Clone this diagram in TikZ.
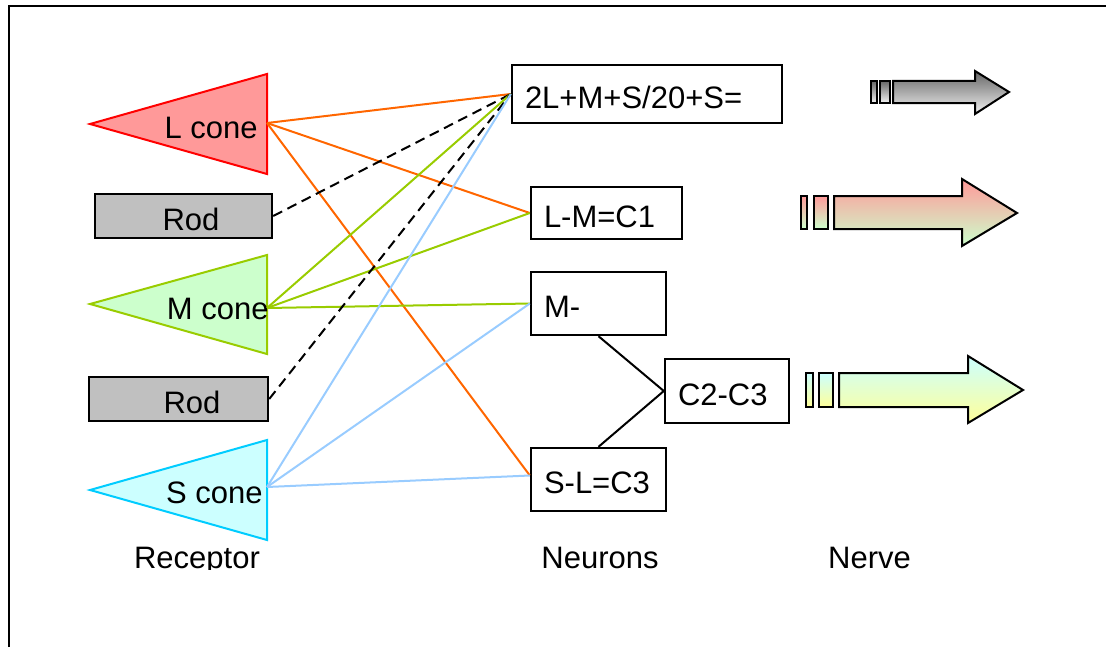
\documentclass[tikz,border=0pt]{standalone}
\usepackage{fontspec}
\setmainfont{Liberation Sans}
\usetikzlibrary{calc}
\definecolor{lfill}{HTML}{FF9999}
\definecolor{lline}{HTML}{FF0000}
\definecolor{mfill}{HTML}{CCFFCC}
\definecolor{mline}{HTML}{99CC00}
\definecolor{sfill}{HTML}{CCFFFF}
\definecolor{sline}{HTML}{00CCFF}
\definecolor{orangeL}{HTML}{FF6600}
\definecolor{blueS}{HTML}{99CCFF}
\definecolor{rodgray}{HTML}{C0C0C0}
\definecolor{yel}{HTML}{FFFF99}
\begin{document}
\begin{tikzpicture}[x=0.5pt,y=-0.5pt,
  font=\fontsize{15.5}{18}\selectfont,
  nbox/.style={draw, line width=1.2pt, fill=white, inner xsep=6.5pt, inner ysep=0pt,
    align=left, text height=14pt, text depth=0pt},
  rodbox/.style={draw, line width=1.2pt, fill=rodgray, inner sep=0pt,
    text height=14pt, text depth=0pt, minimum height=22pt},
  conelabel/.style={inner sep=0pt, anchor=east},
  conn/.style={line width=1pt},
  rodconn/.style={line width=1pt, dash pattern=on 5pt off 3pt},
  arrowpart/.style={draw=black, line width=1pt},
  caption/.style={inner sep=0pt, anchor=base}]
\useasboundingbox (0,0) rectangle (1106,647);
% frame
\draw[line width=1pt] (8.5,647) -- (8.5,6) -- (1106,6);

% receptors
\filldraw[draw=lline, fill=lfill, line width=1pt] (90,124) -- (267,74) -- (267,174) -- cycle;
\coordinate (Lc) at (267,123);
\node[conelabel] (Ltxt) at (258,128) {L cone};

\node[rodbox, minimum width=88.5pt] (rod1) at (183.5,216) {\hspace*{7.5pt}Rod};

\filldraw[draw=mline, fill=mfill, line width=1pt] (90,304) -- (267,255) -- (267,354) -- cycle;
\coordinate (Mc) at (267,308);
\node[conelabel] (Mtxt) at (269,309) {M cone};

\node[rodbox, minimum width=89.5pt] (rod2) at (178.5,399) {\hspace*{13.5pt}Rod};

\filldraw[draw=sline, fill=sfill, line width=1pt] (90,490) -- (267,440) -- (267,540) -- cycle;
\coordinate (Sc) at (267,487);
\node[conelabel] (Stxt) at (263,493) {S cone};

% neurons
\node[nbox, minimum width=135pt, minimum height=29pt, text width=122pt] (A) at (647,94) {2L+M+S/20+S=};
\node[nbox, minimum width=75.5pt, minimum height=26pt, text width=62.5pt] (B) at (606.5,213) {L-M=C1};
\node[nbox, minimum width=67.5pt, minimum height=31.5pt, text width=54.5pt] (C) at (598.5,303.5) {M-};
\node[nbox, minimum width=62pt, minimum height=32pt, text width=49pt] (D) at (727,391) {C2-C3};
\node[nbox, minimum width=67.5pt, minimum height=31.5pt, text width=54.5pt] (E) at (598.5,479.5) {S-L=C3};

% connectors
\draw[conn, orangeL] (Lc) -- (A.west);
\draw[conn, orangeL] (Lc) -- (B.west);
\draw[conn, orangeL] (Lc) -- ([yshift=2pt]E.west);
\draw[rodconn] (rod1.east) -- (A.west);
\draw[conn, mline] (Mc) -- (A.west);
\draw[conn, mline] (Mc) -- (B.west);
\draw[conn, mline] (Mc) -- (C.west);
\draw[rodconn] (rod2.east) -- (A.west);
\draw[conn, blueS] (Sc) -- (A.west);
\draw[conn, blueS] (Sc) -- (C.west);
\draw[conn, blueS] (Sc) -- ([yshift=2pt]E.west);
\draw[conn] (C.south) -- (D.west);
\draw[conn] (E.north) -- (D.west);

% nerve arrows
\path[arrowpart, top color=black!60, bottom color=black!5] (871,81) rectangle (877,103);
\path[arrowpart, top color=black!60, bottom color=black!5] (880,81) rectangle (890,103);
\path[arrowpart, top color=black!60, bottom color=black!5]
  (893,81) -- (975,81) -- (975,71) -- (1009,92) -- (975,114) -- (975,103) -- (893,103) -- cycle;

\path[arrowpart, top color=lfill, bottom color=mfill] (801,196) rectangle (807,229);
\path[arrowpart, top color=lfill, bottom color=mfill] (814,196) rectangle (828,229);
\path[arrowpart, top color=lfill, bottom color=mfill]
  (834,196) -- (962,196) -- (962,179) -- (1017,213) -- (962,246) -- (962,229) -- (834,229) -- cycle;

\path[arrowpart, top color=sfill, bottom color=yel] (806,373) rectangle (813,407);
\path[arrowpart, top color=sfill, bottom color=yel] (819,373) rectangle (833,407);
\path[arrowpart, top color=sfill, bottom color=yel]
  (839,373) -- (968,373) -- (968,356) -- (1023,390) -- (968,423) -- (968,407) -- (839,407) -- cycle;

% captions (clipped at the baseline as in the picture)
\begin{scope}
\clip (0,0) rectangle (1106,569);
\node[caption] (rec) at (197,568) {Receptor};
\node[caption] (neu) at (600,568) {Neurons};
\node[caption] (ner) at (869.5,568) {Nerve};
\end{scope}
\end{tikzpicture}
\end{document}
